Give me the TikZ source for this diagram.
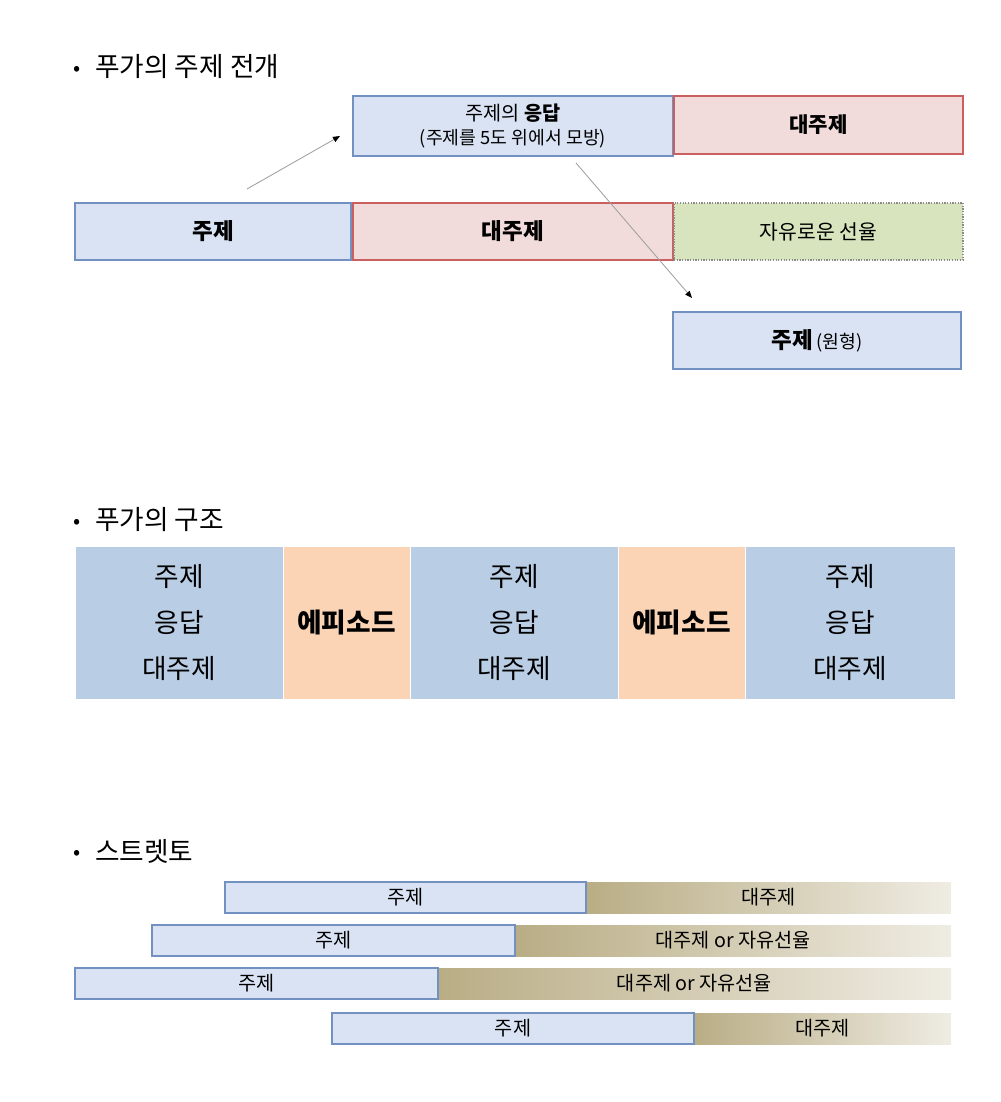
\documentclass[tikz,border=0pt]{standalone}
\usepackage{fontspec}
\setmainfont{Noto Sans CJK KR}
\usetikzlibrary{arrows.meta,calc}

\definecolor{themeFill}{HTML}{DAE3F3}
\definecolor{themeLine}{HTML}{7391C0}
\definecolor{csFill}{HTML}{F2DCDB}
\definecolor{csLine}{HTML}{C95F5E}
\definecolor{freeFill}{HTML}{D8E4BD}
\definecolor{freeLine}{HTML}{8A8A8A}
\definecolor{secBlue}{HTML}{B9CDE5}
\definecolor{epiPeach}{HTML}{FAD4B5}
\definecolor{fadeDark}{HTML}{B9AD85}
\definecolor{fadeLight}{HTML}{EFECE3}

\begin{document}
\begin{tikzpicture}[x=0.025cm, y=-0.025cm,
    box/.style 2 args={minimum width=(#1)*0.025cm, minimum height=(#2)*0.025cm, inner sep=0pt, outer sep=0pt},
    heading/.style={anchor=west, inner sep=0pt, font=\fontsize{19}{23}\selectfont},
    themebox/.style={draw=themeLine, fill=themeFill, line width=1.1pt},
    csbox/.style={draw=csLine, fill=csFill, line width=1.1pt},
    freebox/.style={draw=freeLine, fill=freeFill, line width=0.9pt, densely dotted},
    secbox/.style={draw=white, fill=secBlue, line width=0.6pt, align=center, font=\fontsize{19}{32.7}\selectfont},
    epibox/.style={draw=white, fill=epiPeach, line width=0.6pt, font=\bfseries\fontsize{19}{23}\selectfont},
    fade/.style={left color=fadeDark, right color=fadeLight, font=\fontsize{14}{17}\selectfont},
    arr/.style={draw=gray!75, line width=0.6pt, -{Triangle[length=5pt, width=4pt, color=black]}}]

    % Page frame
    \useasboundingbox (0,0) rectangle (1000,1102);

    % Headings
    \node[heading] (h1) at (73,67) {\makebox[15.6pt][l]{\raisebox{1pt}{\fontsize{15}{15}\selectfont •}}푸가의 주제 전개};
    \node[heading] (h2) at (73,520) {\makebox[15.6pt][l]{\raisebox{1pt}{\fontsize{15}{15}\selectfont •}}푸가의 구조};
    \node[heading] (h3) at (73,851) {\makebox[15.6pt][l]{\raisebox{1pt}{\fontsize{15}{15}\selectfont •}}스트렛토};

    % Subject, answer and countersubject
    \node[themebox, box={320}{60}, align=center, font=\fontsize{13}{17}\selectfont] (answer) at (513,126)
        {{\fontsize{14}{17}\selectfont 주제의 \textbf{응답}}\\(주제를 5도 위에서 모방)};
    \node[csbox, box={289}{58}, font=\bfseries\fontsize{15}{18}\selectfont] (cs1) at (818.5,125) {대주제};
    \node[themebox, box={276}{57}, font=\bfseries\fontsize{16}{19}\selectfont] (theme) at (213,231.5) {주제};
    \node[csbox, box={320}{57}, font=\bfseries\fontsize{16}{19}\selectfont] (cs2) at (513,231.5) {대주제};
    \node[freebox, box={289}{57}, font=\fontsize{14.5}{18}\selectfont] (free) at (818.5,231.5) {자유로운 선율};
    \node[themebox, box={288}{57}] (orig) at (817,340.5)
        {{\bfseries\fontsize{16}{19}\selectfont 주제} {\fontsize{13}{16}\selectfont (원형)}};

    % Arrows
    \coordinate (a1s) at ($(theme.north)+(34,-14)$);
    \coordinate (a1e) at ($(answer.west)+(-13,10)$);
    \coordinate (a2s) at ($(answer.south)+(63,7)$);
    \coordinate (a2e) at ($(orig.north west)+(19,-14)$);
    \draw[arr] (a1s) -- (a1e);
    \draw[arr] (a2s) -- (a2e);

    % Structure of the fugue
    \foreach \n/\xc/\w in {m1/179/208, m3/514/208, m5/850/210}
        \node[secbox, box={\w}{153}] (\n) at (\xc,622.5) {주제\\응답\\대주제};
    \foreach \n/\xc in {m2/346.5, m4/681.5}
        \node[epibox, box={127}{153}] (\n) at (\xc,622.5) {에피소드};

    % Stretto
    \foreach \i/\xa/\xb/\yc/\txt in {1/225/586/897.5/대주제, 2/152/515/940.5/대주제 or 자유선율,
                                     3/75/438/983.5/대주제 or 자유선율, 4/332/694/1028.5/대주제}{
        \node[fade, box={951-\xb}{31}] (sc\i) at ({(\xb+951)/2},\yc) {\txt};
        \node[themebox, box={\xb-\xa}{31}, font=\fontsize{14}{17}\selectfont] (st\i) at ({(\xa+\xb)/2},\yc) {주제};
    }
\end{tikzpicture}
\end{document}
